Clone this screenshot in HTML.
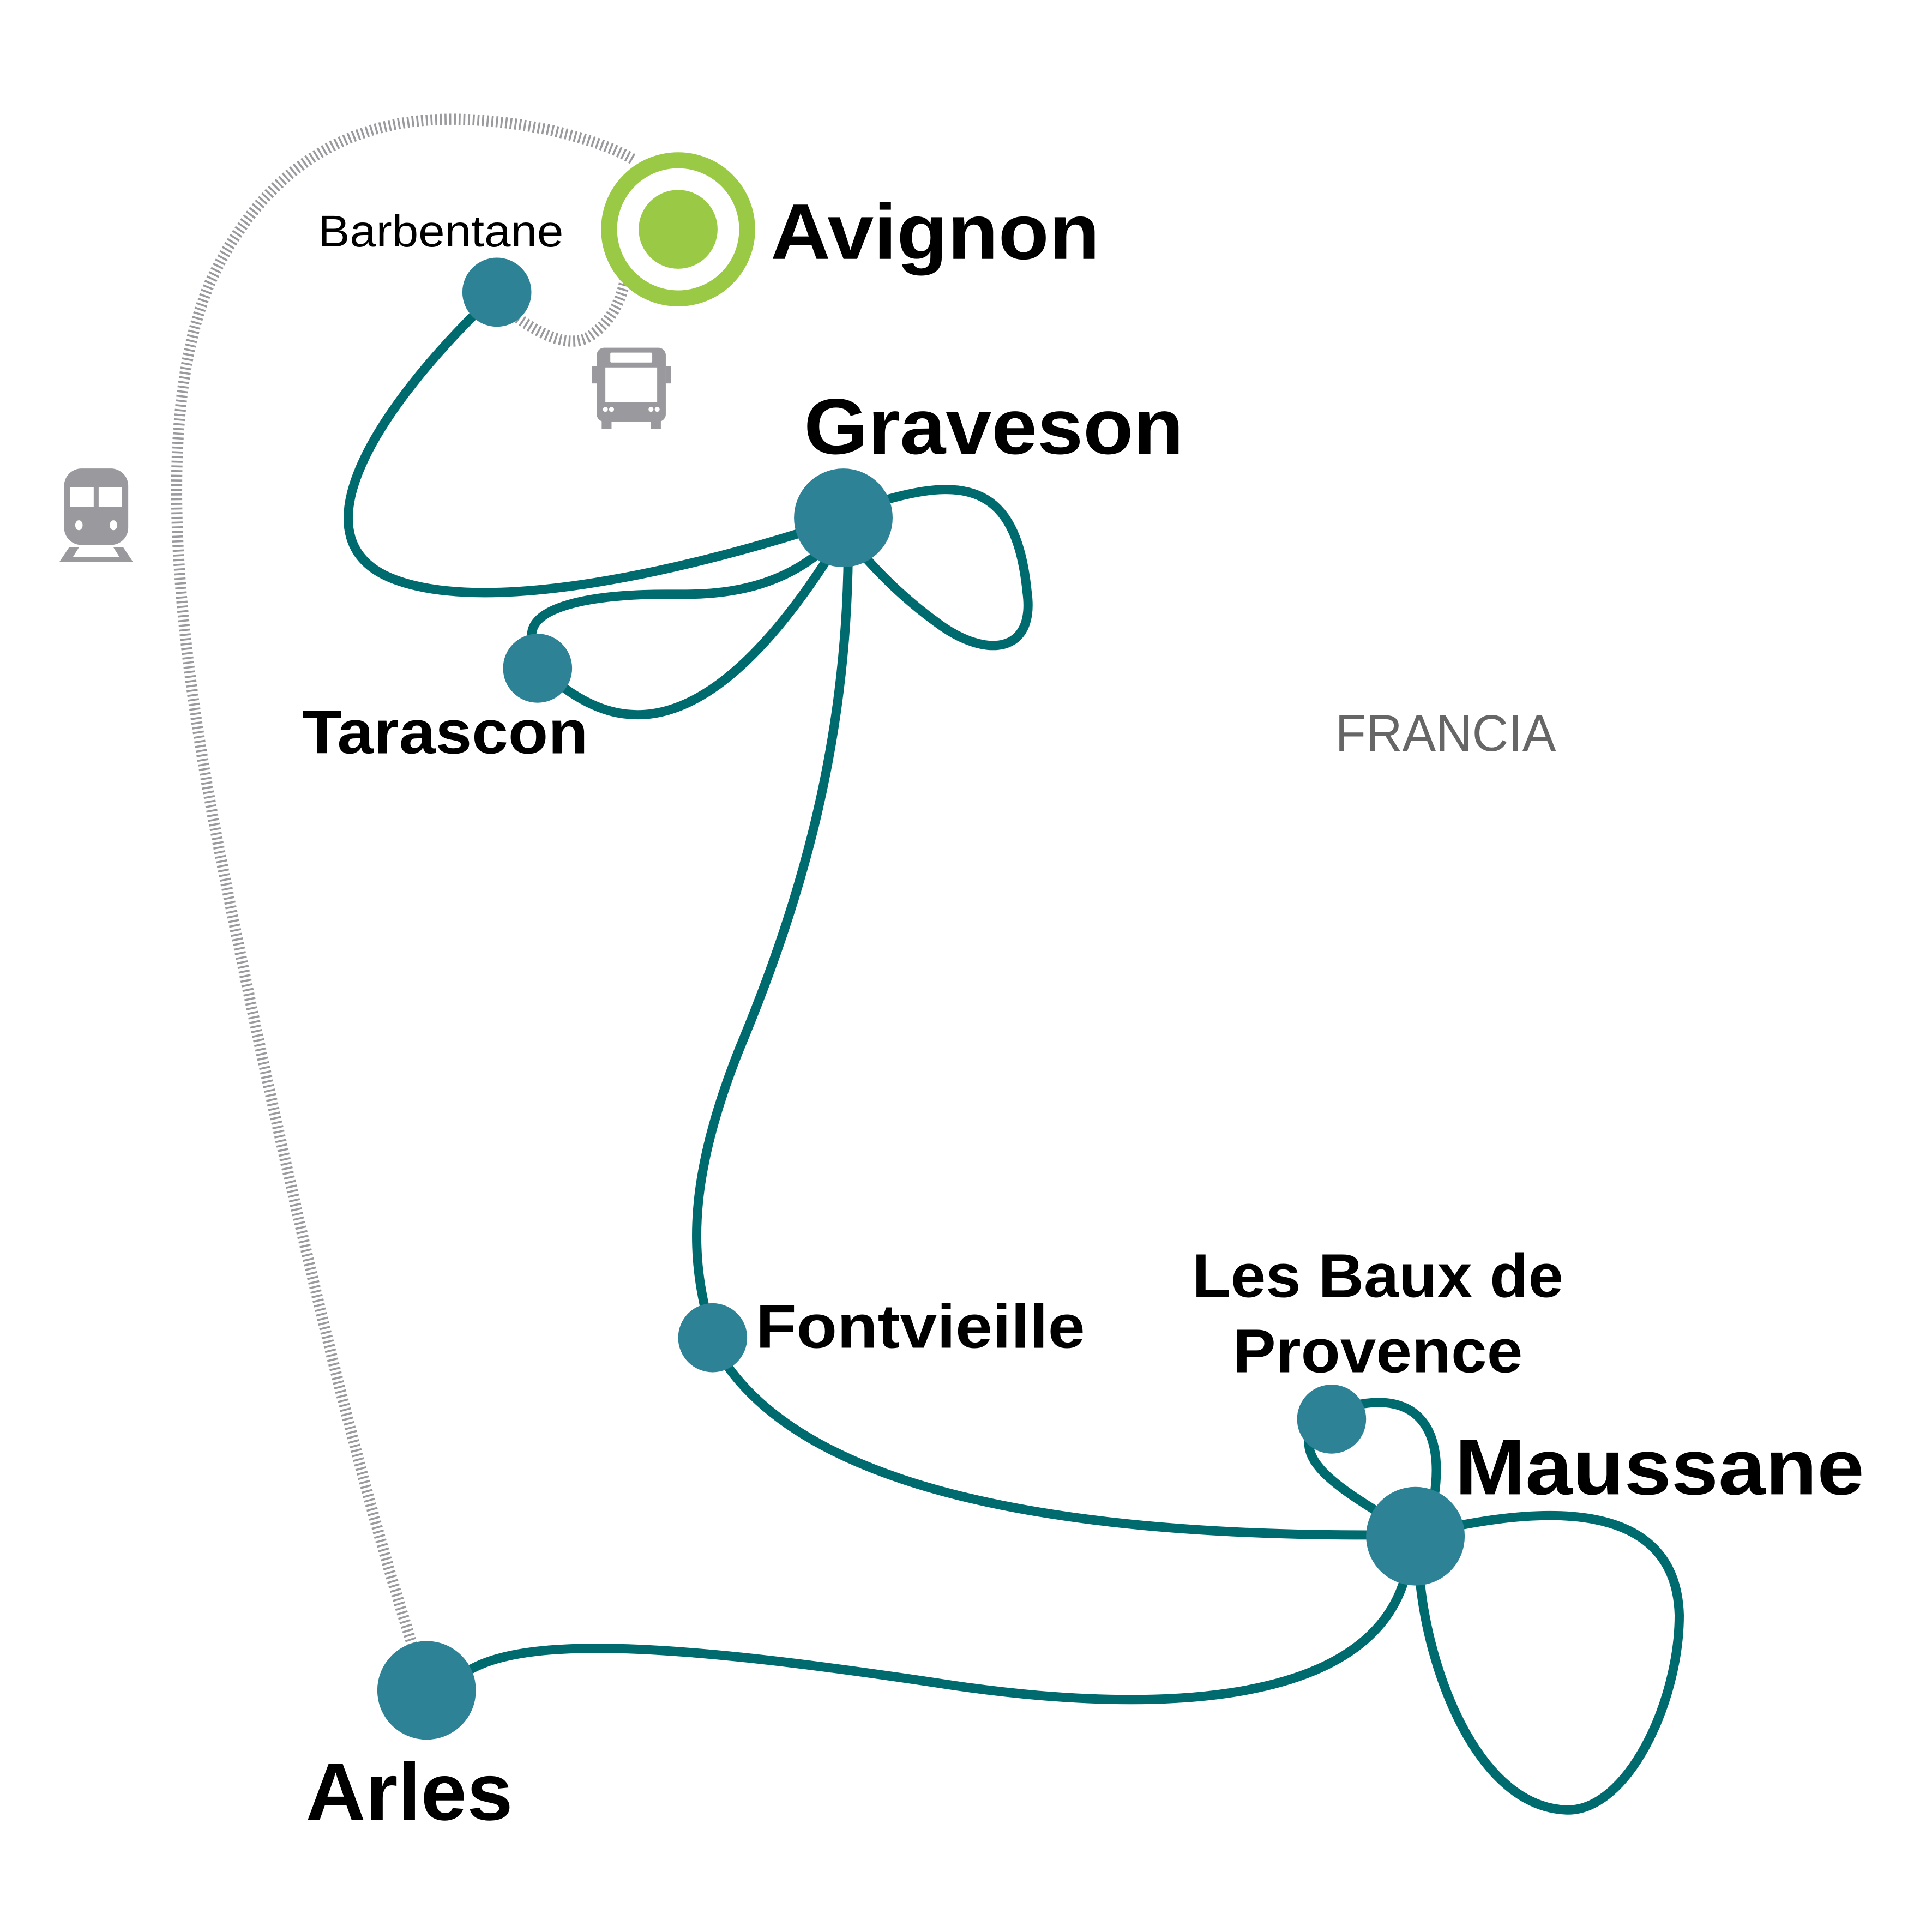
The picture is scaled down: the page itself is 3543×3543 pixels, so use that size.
<!DOCTYPE html>
<html><head><meta charset="utf-8"><style>
html,body{margin:0;padding:0;background:#fff;}
svg{display:block;}
text{font-family:"Liberation Sans",sans-serif;}
</style></head><body>
<svg width="3543" height="3543" viewBox="0 0 1567 1567" xmlns="http://www.w3.org/2000/svg">
<rect width="1567" height="1567" fill="#fff"/>
<!-- dashed gray rail lines -->
<g fill="none" stroke="#9a9a9e" stroke-width="9" stroke-dasharray="1.6 2.2">
<path d="M338,1345 C290,1200 230,950 180,700 C150,550 120,350 170,230 C230,100 330,95 380,97 C440,100 490,115 515,130"/>
<path d="M420,258 C440,272 465,285 482,270 C498,258 505,240 508,222"/>
</g>
<!-- teal routes -->
<g fill="none" stroke="#006b6e" stroke-width="7.5" stroke-linecap="round">
<path d="M385,255 C300,340 240,440 320,470 C400,500 560,460 650,432"/>
<path d="M665,448 C620,485 565,482 540,482 C470,482 425,495 432,520"/>
<path d="M455,556 C500,590 570,610 672,452"/>
<path d="M720,405 C790,385 825,400 833,480 C840,530 800,535 760,505 C735,487 715,467 700,450"/>
<path d="M688,440 C688,600 650,730 600,850 C560,950 560,1010 572,1062"/>
<path d="M590,1108 C670,1220 900,1245 1110,1245"/>
<path d="M1117,1226 C1078,1202 1058,1185 1062,1165"/>
<path d="M1098,1140 C1150,1128 1172,1160 1163,1215"/>
<path d="M1185,1237 C1300,1215 1360,1240 1362,1310 C1362,1380 1320,1470 1270,1468 C1200,1465 1160,1360 1152,1285"/>
<path d="M1140,1278 C1110,1390 920,1390 760,1365 C560,1335 430,1325 380,1355"/>
</g>
<!-- nodes -->
<g fill="#2e8296">
<circle cx="403" cy="237" r="28"/>
<circle cx="684" cy="420" r="40"/>
<circle cx="436" cy="542" r="28"/>
<circle cx="578" cy="1085" r="28"/>
<circle cx="1080" cy="1151" r="28"/>
<circle cx="1148" cy="1246" r="40"/>
<circle cx="346" cy="1371" r="40"/>
</g>
<circle cx="550" cy="186" r="56" fill="#fff" stroke="#9aca45" stroke-width="13"/>
<circle cx="550" cy="186" r="32" fill="#9aca45"/>
<!-- bus icon -->
<g fill="#9a9a9e">
<rect x="484" y="282" width="56" height="60" rx="6"/>
<rect x="480" y="297" width="4" height="14"/>
<rect x="540" y="297" width="4" height="14"/>
<rect x="488" y="340" width="8" height="8"/>
<rect x="528" y="340" width="8" height="8"/>
</g>
<g fill="#fff">
<rect x="495" y="286" width="34" height="8" rx="1"/>
<rect x="491" y="298" width="42" height="28"/>
<circle cx="491" cy="332" r="2"/><circle cx="496" cy="332" r="2"/>
<circle cx="528" cy="332" r="2"/><circle cx="533" cy="332" r="2"/>
</g>
<!-- train icon -->
<g fill="#9a9a9e">
<rect x="52" y="380" width="52" height="62" rx="14"/>
<polygon points="48,456 56,444 64,444 59,452 97,452 92,444 100,444 108,456"/>
</g>
<g fill="#fff">
<rect x="57" y="395" width="19" height="16"/>
<rect x="80" y="395" width="19" height="16"/>
<ellipse cx="64" cy="426" rx="3" ry="4"/>
<ellipse cx="92" cy="426" rx="3" ry="4"/>
</g>
<!-- labels -->
<g font-weight="bold" fill="#000">
<text x="625" y="210" font-size="64" textLength="267" lengthAdjust="spacingAndGlyphs">Avignon</text>
<text x="652" y="368" font-size="64" textLength="308" lengthAdjust="spacingAndGlyphs">Graveson</text>
<text x="245" y="611" font-size="50" textLength="232" lengthAdjust="spacingAndGlyphs">Tarascon</text>
<text x="613" y="1093" font-size="50" textLength="267" lengthAdjust="spacingAndGlyphs">Fontvieille</text>
<text x="967" y="1052" font-size="50" textLength="301" lengthAdjust="spacingAndGlyphs">Les Baux de</text>
<text x="1000" y="1113" font-size="50" textLength="235" lengthAdjust="spacingAndGlyphs">Provence</text>
<text x="1180" y="1212" font-size="64" textLength="332" lengthAdjust="spacingAndGlyphs">Maussane</text>
<text x="248" y="1476" font-size="66" textLength="168" lengthAdjust="spacingAndGlyphs">Arles</text>
</g>
<text x="258" y="200" font-size="36" fill="#000" textLength="199" lengthAdjust="spacingAndGlyphs">Barbentane</text>
<text x="1083" y="609" font-size="42" fill="#666" textLength="179" lengthAdjust="spacingAndGlyphs">FRANCIA</text>
</svg>
</body></html>
